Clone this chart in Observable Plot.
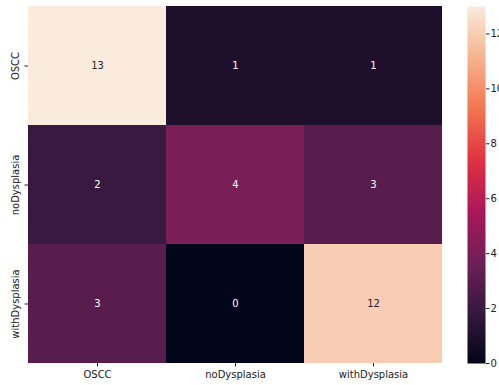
<!DOCTYPE html>
<html><head><meta charset="utf-8">
<script src="https://cdn.jsdelivr.net/npm/d3@7"></script>
<script src="https://cdn.jsdelivr.net/npm/@observablehq/plot@0.6"></script>
<style>
body{margin:0;background:#fff;overflow:hidden;width:499px;height:385px;}
#wrap{position:relative;width:499px;height:385px;overflow:hidden;}
#main{position:absolute;left:0;top:0;}
#cbar{position:absolute;left:449px;top:0;}
</style>
</head><body>
<div id="wrap"><div id="main"></div><div id="cbar"></div></div>
<script>
const rowLabels = ["OSCC", "noDysplasia", "withDysplasia"];
const colLabels = ["OSCC", "noDysplasia", "withDysplasia"];
const countsOSCC = [13, 1, 1];
const countsNoDysplasia = [2, 4, 3];
const countsWithDysplasia = [3, 0, 12];
const colorbarTicks = [0, 2, 4, 6, 8, 10, 12];
const colorMax = 13;
const rocketStops = ["#03051a", "#35193e", "#701f57", "#ad1759", "#e13342", "#f37651", "#f6b48f", "#faebdd"];

const matrix = [countsOSCC, countsNoDysplasia, countsWithDysplasia];
const data = [];
rowLabels.forEach((r, i) => colLabels.forEach((c, j) => data.push({row: r, col: c, value: matrix[i][j]})));

const rocket = d3.piecewise(d3.interpolateRgb, rocketStops);
const colorScale = {type: "linear", domain: [0, colorMax], interpolate: rocket};
const font = {fontFamily: "'DejaVu Sans', sans-serif", fontSize: "10px", color: "#222", background: "transparent"};

const main = Plot.plot({
  width: 449, height: 385,
  marginLeft: 28, marginRight: 7, marginTop: 6, marginBottom: 22,
  x: {domain: colLabels, padding: 0, label: null},
  y: {domain: rowLabels, padding: 0, label: null},
  color: colorScale,
  style: font,
  marks: [
    Plot.cell(data, {x: "col", y: "row", fill: "value", inset: 0}),
    Plot.text(data.filter(d => d.value < 10), {x: "col", y: "row", text: d => String(d.value), fill: "#ffffff", fontSize: 10}),
    Plot.text(data.filter(d => d.value >= 10), {x: "col", y: "row", text: d => String(d.value), fill: "#262626", fontSize: 10}),
    Plot.axisX({tickSize: 3.5, tickPadding: 3.5, label: null}),
    Plot.axisY({tickSize: 3.5, tickPadding: 6, tickRotate: -90, label: null})
  ]
});
document.getElementById("main").appendChild(main);

const cbar = Plot.plot({
  width: 50, height: 385,
  marginLeft: 18, marginRight: 14, marginTop: 6, marginBottom: 22,
  x: {domain: [0, 1], axis: null},
  y: {domain: [0, colorMax], label: null},
  color: colorScale,
  style: font,
  marks: [
    Plot.raster({x1: 0, x2: 1, y1: 0, y2: colorMax, fill: (x, y) => y, imageRendering: "auto"}),
    Plot.axisY({anchor: "right", ticks: colorbarTicks, tickSize: 3.5, tickPadding: 1.5, label: null})
  ]
});
document.getElementById("cbar").appendChild(cbar);
</script>
</body></html>
